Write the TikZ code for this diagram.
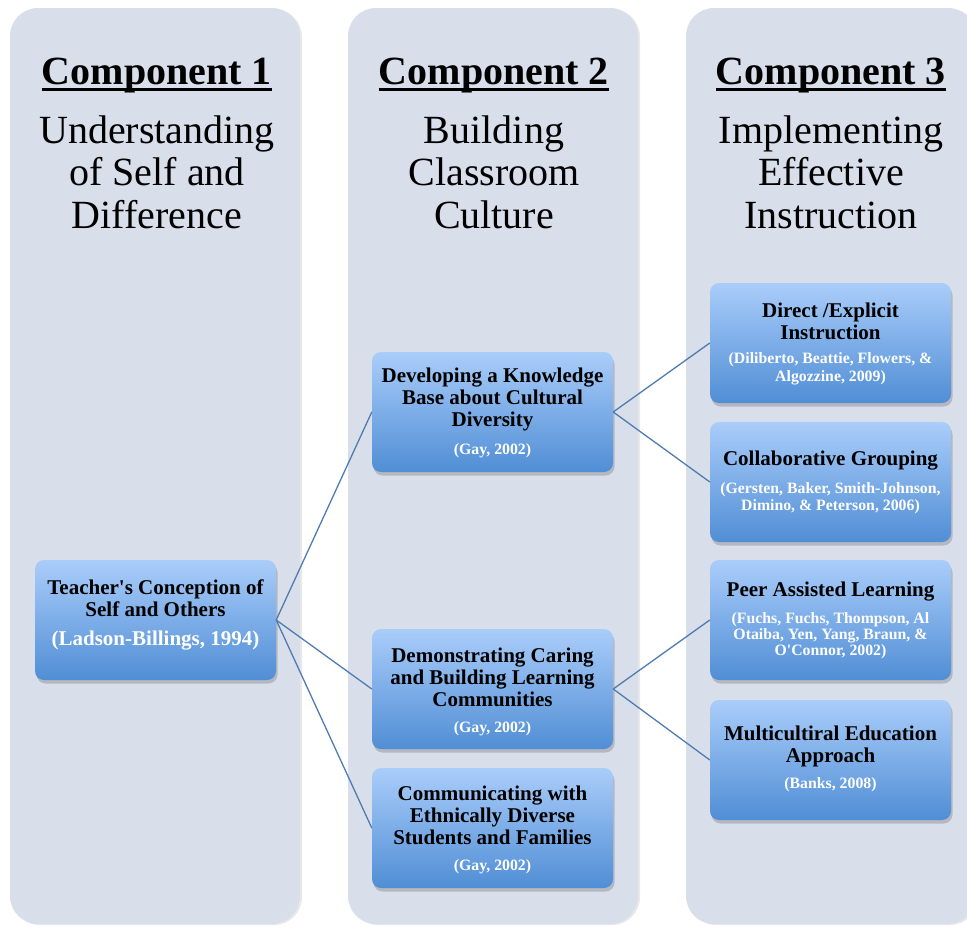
\documentclass[tikz,border=0pt]{standalone}
\usepackage{fontspec}
\setmainfont{Liberation Serif}
\usetikzlibrary{shadows}
\definecolor{colfill}{RGB}{217,222,235}
\definecolor{boxtop}{RGB}{170,205,250}
\definecolor{boxbot}{RGB}{80,142,213}
\definecolor{linkc}{RGB}{79,124,175}
\begin{document}
\begin{tikzpicture}[x=1pt,y=-1pt,
  colbox/.style={rectangle, rounded corners=28pt, minimum width=290pt, minimum height=916pt, inner sep=0pt, fill=colfill, draw=none, drop shadow={shadow xshift=2pt, shadow yshift=-1pt, opacity=0.18}},
  blk/.style={rectangle, rounded corners=9pt, minimum width=241pt, minimum height=120pt, inner sep=0pt, top color=boxtop, bottom color=boxbot, draw=none, drop shadow={shadow xshift=1.5pt, shadow yshift=-3.5pt, opacity=0.4}},
  ttl/.style={align=center, font=\fontsize{21}{22}\selectfont\bfseries, inner sep=0pt},
  cit/.style={align=center, text=white, font=\fontsize{15.8}{17.5}\selectfont\bfseries, inner sep=0pt},
  hd/.style={anchor=base, inner sep=0pt, font=\fontsize{40}{42}\selectfont\bfseries},
  sub/.style={anchor=base, inner sep=0pt, font=\fontsize{40}{42}\selectfont},
  uline/.style={line width=2.5pt},
  link/.style={draw=linkc, line width=1.3pt}]
\useasboundingbox (0,0) rectangle (967,926);

% columns
\node[colbox] (k1) at (155,466) {};
\node[colbox] (k2) at (493,466) {};
\node[colbox] (k3) at (831,466) {};

% headings
\node[hd] (h1) at (157,84) {Component 1};
\node[hd] (h2) at (494,84) {Component 2};
\node[hd] (h3) at (831,84) {Component 3};
\draw[uline] ([yshift=-5.5pt]h1.base west) -- ([yshift=-5.5pt]h1.base east);
\draw[uline] ([yshift=-5.5pt]h2.base west) -- ([yshift=-5.5pt]h2.base east);
\draw[uline] ([yshift=-5.5pt]h3.base west) -- ([yshift=-5.5pt]h3.base east);

\node[sub] (s1a) at (157,143) {Understanding};
\node[sub] (s1b) at (157,185) {of Self and};
\node[sub] (s1c) at (157,228) {Difference};
\node[sub] (s2a) at (494,143) {Building};
\node[sub] (s2b) at (494,185) {Classroom};
\node[sub] (s2c) at (494,228) {Culture};
\node[sub] (s3a) at (831,143) {Implementing};
\node[sub] (s3b) at (831,185) {Effective};
\node[sub] (s3c) at (831,228) {Instruction};

% boxes
\node[blk] (teach) at (155.5,620) {};
\node[blk] (dev) at (492.5,412) {};
\node[blk] (dem) at (492.5,689) {};
\node[blk] (com) at (492.5,828) {};
\node[blk] (dir) at (830.5,343) {};
\node[blk] (coll) at (830.5,482) {};
\node[blk] (peer) at (830.5,620) {};
\node[blk] (multi) at (830.5,760) {};

% box texts
\node[ttl] (teacht) at (155.5,598) {Teacher\textquotesingle s Conception of\\Self and Others};
\node[cit, font=\fontsize{21}{22}\selectfont\bfseries] (teachc) at (155.5,641) {(Ladson-Billings, 1994)};

\node[ttl] (devt) at (492.5,399) {Developing a Knowledge\\Base about Cultural\\Diversity};
\node[cit] (devc) at (492.5,451) {(Gay, 2002)};

\node[ttl] (demt) at (492.5,677) {Demonstrating Caring\\and Building Learning\\Communities};
\node[cit] (demc) at (492.5,729) {(Gay, 2002)};

\node[ttl] (comt) at (492.5,815) {Communicating with\\Ethnically Diverse\\Students and Families};
\node[cit] (comc) at (492.5,867) {(Gay, 2002)};

\node[ttl] (dirt) at (830.5,321) {Direct /Explicit\\Instruction};
\node[cit, font=\fontsize{15.8}{18}\selectfont\bfseries] (dirc) at (830.5,369) {(Diliberto, Beattie, Flowers, \&\\Algozzine, 2009)};

\node[ttl] (collt) at (830.5,461) {Collaborative Grouping};
\node[cit, font=\fontsize{15.8}{17}\selectfont\bfseries] (collc) at (830.5,498) {(Gersten, Baker, Smith-Johnson,\\Dimino, \& Peterson, 2006)};

\node[ttl] (peert) at (830.5,592) {Peer Assisted Learning};
\node[cit, font=\fontsize{15.8}{16}\selectfont\bfseries] (peerc) at (830.5,636) {(Fuchs, Fuchs, Thompson, Al\\Otaiba, Yen, Yang, Braun, \&\\O\textquotesingle Connor, 2002)};

\node[ttl] (multit) at (830.5,746) {Multicultiral Education\\Approach};
\node[cit] (multic) at (830.5,785) {(Banks, 2008)};

% connectors
\draw[link] (teach.east) -- (dev.west);
\draw[link] (teach.east) -- (dem.west);
\draw[link] (teach.east) -- (com.west);
\draw[link] (dev.east) -- (dir.west);
\draw[link] (dev.east) -- (coll.west);
\draw[link] (dem.east) -- (peer.west);
\draw[link] (dem.east) -- (multi.west);
\end{tikzpicture}
\end{document}
